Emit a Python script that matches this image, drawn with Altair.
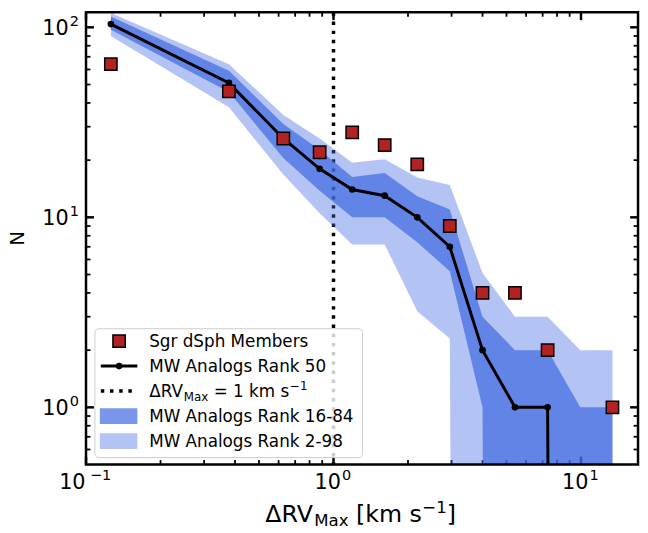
import altair as alt
import pandas as pd

# ---------------- data ----------------
x_bins = [0.126, 0.378, 0.627, 0.879, 1.19, 1.61, 2.18, 2.95, 4.0, 5.41, 7.33, 9.93, 13.4]
sgr_counts = [64, 46, 26, 22, 28, 24, 19, 9, 4, 4, 2, 0, 1]
rank50 = [104, 51, 26, 18, 14, 13, 10, 7, 2, 1, 1, 0, 0]
rank16 = [97, 45.7, 20.5, 13.8, 10, 10, 7.4, 5.2, 1, 0, 0, 0, 0]
rank84 = [114, 59, 31, 22.7, 16.3, 17.1, 12.9, 11, 3, 2, 2, 1, 1]
rank2 = [90, 38, 16.8, 10.5, 7.2, 7.2, 3.2, 2.3, 0, 0, 0, 0, 0]
rank98 = [119, 64, 34.6, 26, 19.4, 20.2, 16.2, 14.8, 5.1, 3, 3, 2, 2]
vline_x = [1.0]

x_major = [0.1, 1, 10]
x_major_exp = ["−1", "0", "1"]
x_minor = [0.2, 0.3, 0.4, 0.5, 0.6, 0.7, 0.8, 0.9, 2, 3, 4, 5, 6, 7, 8, 9]
y_major = [1, 10, 100]
y_major_exp = ["0", "1", "2"]
y_minor = [0.6, 0.7, 0.8, 0.9, 2, 3, 4, 5, 6, 7, 8, 9, 20, 30, 40, 50, 60, 70, 80, 90]

W, H = 559, 458
FONT = "DejaVu Sans"
BLUE = "#4169e1"
RED = "#b22222"
TINY = 1e-30  # zero counts on a log axis: clipped far below the frame


def pos(vals):
    return [v if v > 0 else TINY for v in vals]


df = pd.DataFrame({
    "x": x_bins,
    "sgr": sgr_counts,
    "r50": pos(rank50),
    "r16": pos(rank16),
    "r84": pos(rank84),
    "r2": pos(rank2),
    "r98": pos(rank98),
})
df_sgr = pd.DataFrame({"x": x_bins, "sgr": sgr_counts})
df_sgr = df_sgr[df_sgr["sgr"] > 0]
df_med = pd.DataFrame({"x": x_bins, "r50": rank50})
df_med = df_med[df_med["r50"] > 0]
one = pd.DataFrame({"k": [0]})

xscale = alt.Scale(type="log", domain=[0.1, 17], nice=False)
yscale = alt.Scale(type="log", domain=[0.5, 120], nice=False)


def X(field):
    return alt.X(f"{field}:Q", scale=xscale, axis=None)


def Y(field):
    return alt.Y(f"{field}:Q", scale=yscale, axis=None)


layers = []

# ---- inward ticks (all four sides) ----
for vals, L, w in [(x_major, 8, 2.5), (x_minor, 4.5, 1.8)]:
    d = pd.DataFrame({"v": vals})
    layers.append(alt.Chart(d).mark_rule(color="black", strokeWidth=w).encode(
        x=X("v"), y=alt.value(H), y2=alt.value(H - L)))
    layers.append(alt.Chart(d).mark_rule(color="black", strokeWidth=w).encode(
        x=X("v"), y=alt.value(0), y2=alt.value(L)))
for vals, L, w in [(y_major, 8, 2.5), (y_minor, 4.5, 1.8)]:
    d = pd.DataFrame({"v": vals})
    layers.append(alt.Chart(d).mark_rule(color="black", strokeWidth=w).encode(
        y=Y("v"), x=alt.value(0), x2=alt.value(L)))
    layers.append(alt.Chart(d).mark_rule(color="black", strokeWidth=w).encode(
        y=Y("v"), x=alt.value(W), x2=alt.value(W - L)))

# ---- dotted vertical line at 1 km/s ----
layers.append(alt.Chart(pd.DataFrame({"v": vline_x})).mark_rule(
    color="black", strokeWidth=3.5, strokeDash=[3.5, 5.8]).encode(
    x=X("v"), y=alt.value(0), y2=alt.value(H)))

# ---- bands ----
layers.append(alt.Chart(df).mark_area(color=BLUE, opacity=0.4, clip=True).encode(
    x=X("x"), y=Y("r2"), y2="r98"))
layers.append(alt.Chart(df).mark_area(color=BLUE, opacity=0.7, clip=True).encode(
    x=X("x"), y=Y("r16"), y2="r84"))

# ---- median line ----
layers.append(alt.Chart(df).mark_line(color="black", strokeWidth=3, clip=True).encode(
    x=X("x"), y=Y("r50")))
layers.append(alt.Chart(df_med).mark_circle(color="black", size=45, opacity=1, clip=True).encode(
    x=X("x"), y=Y("r50")))

# ---- Sgr members ----
layers.append(alt.Chart(df_sgr).mark_square(fill=RED, fillOpacity=1, stroke="black", strokeWidth=1.5,
                                             size=156, clip=True).encode(
    x=X("x"), y=Y("sgr")))

# ---- frame ----
layers.append(alt.Chart(one).mark_rect(fillOpacity=0, stroke="black", strokeWidth=2.5).encode(
    x=alt.value(0), x2=alt.value(W), y=alt.value(0), y2=alt.value(H)))


def txt(s, x, y, size, baseline="alphabetic", align="left", angle=0):
    return alt.Chart(one).mark_text(text=s, fontSize=size, font=FONT, color="black", align=align,
                                    baseline=baseline, angle=angle).encode(x=alt.value(x), y=alt.value(y))


# ---- tick labels (10 with a superscript exponent) ----
TF, SF = 21, 14.7
for v, e in zip(x_major, x_major_exp):
    d = pd.DataFrame({"v": [v], "e": [e]})
    long_exp = len(e) > 1
    layers.append(alt.Chart(d).mark_text(text="10", fontSize=TF, font=FONT, color="black", align="right",
                                         baseline="alphabetic", dx=-0.5 if long_exp else 7.5).encode(
        x=X("v"), y=alt.value(H + 24.5)))
    layers.append(alt.Chart(d).mark_text(fontSize=SF, font=FONT, color="black", align="left",
                                         baseline="alphabetic", dx=4 if long_exp else 8.5).encode(
        x=X("v"), y=alt.value(H + 15.5), text="e:N"))
dy_ = pd.DataFrame({"v": y_major, "e": y_major_exp})
layers.append(alt.Chart(dy_).mark_text(text="10", fontSize=TF, font=FONT, color="black", align="right",
                                       baseline="alphabetic", dy=8).encode(
    y=Y("v"), x=alt.value(-17.5)))
layers.append(alt.Chart(dy_).mark_text(fontSize=SF, font=FONT, color="black", align="right",
                                       baseline="alphabetic", dy=-1).encode(
    y=Y("v"), x=alt.value(-7), text="e:N"))

# ---- legend ----
LX0, LX1, LY0, LY1 = 9, 280, 320.5, 451
layers.append(alt.Chart(one).mark_rect(fill="white", fillOpacity=0.8, stroke="#cccccc", strokeWidth=1,
                                       cornerRadius=4).encode(
    x=alt.value(LX0), x2=alt.value(LX1), y=alt.value(LY0), y2=alt.value(LY1)))
rows = [333, 358.3, 383.6, 409, 434.3]
HX0, HX1, HXC, TX = 15, 52, 33.5, 64
FS = 17
layers.append(alt.Chart(one).mark_square(fill=RED, fillOpacity=1, stroke="black", strokeWidth=1.5,
                                         size=156).encode(x=alt.value(HXC), y=alt.value(rows[0])))
layers.append(alt.Chart(one).mark_rule(color="black", strokeWidth=3).encode(
    x=alt.value(HX0), x2=alt.value(HX1), y=alt.value(rows[1])))
layers.append(alt.Chart(one).mark_circle(color="black", size=45, opacity=1).encode(
    x=alt.value(HXC), y=alt.value(rows[1])))
layers.append(alt.Chart(one).mark_rule(color="black", strokeWidth=3.5, strokeDash=[3.5, 5.8]).encode(
    x=alt.value(HX0), x2=alt.value(HX1), y=alt.value(rows[2])))
layers.append(alt.Chart(one).mark_rect(color=BLUE, opacity=0.7).encode(
    x=alt.value(HX0 - 1), x2=alt.value(HX1), y=alt.value(rows[3] - 8), y2=alt.value(rows[3] + 8)))
layers.append(alt.Chart(one).mark_rect(color=BLUE, opacity=0.4).encode(
    x=alt.value(HX0 - 1), x2=alt.value(HX1), y=alt.value(rows[4] - 8), y2=alt.value(rows[4] + 8)))

layers.append(txt("Sgr dSph Members", TX, rows[0] + 6, FS))
layers.append(txt("MW Analogs Rank 50", TX, rows[1] + 6, FS))
layers.append(txt("ΔRV", TX, rows[2] + 6, FS))
layers.append(txt("Max", TX + 35.1, rows[2] + 10, 12))
layers.append(txt("= 1 km s", TX + 35.1 + 24.8 + 5.4, rows[2] + 6, FS))
layers.append(txt("−1", TX + 35.1 + 24.8 + 5.4 + 4.52 * FS + 0.5, rows[2] - 1, 12))
layers.append(txt("MW Analogs Rank 16-84", TX, rows[3] + 6, FS))
layers.append(txt("MW Analogs Rank 2-98", TX, rows[4] + 6, FS))

# ---- axis titles ----
TB = 516
layers.append(txt("ΔRV", 181.6, TB, 24))
layers.append(txt("Max", 231.1, TB + 4.5, 16.8))
layers.append(txt("[km s", 273.4, TB, 24))
layers.append(txt("−1", 340.6, TB - 9, 16.8))
layers.append(txt("]", 365.4, TB, 24))
layers.append(txt("N", -69, H / 2, 20, baseline="middle", align="center", angle=270))

chart = alt.layer(*layers).properties(
    width=W, height=H,
    autosize=alt.AutoSizeParams(type="none"),
    padding={"left": 79, "top": 1, "right": 2, "bottom": 66},
).configure_view(strokeWidth=0)

chart.save("out.html", embed_options={"renderer": "svg", "actions": False})
